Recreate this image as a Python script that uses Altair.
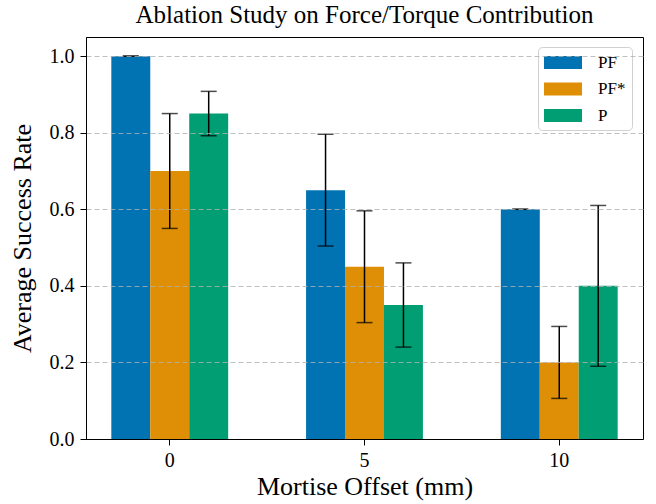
import altair as alt
import pandas as pd

offsets = ["0", "5", "10"]
methods = ["PF", "PF*", "P"]
colors = ["#0173b2", "#de8f05", "#029e73"]

pf_mean = [1.0, 0.65, 0.60]
pf_err = [0.0, 0.146, 0.0]
pfs_mean = [0.70, 0.45, 0.20]
pfs_err = [0.15, 0.146, 0.094]
p_mean = [0.85, 0.35, 0.40]
p_err = [0.058, 0.11, 0.21]

y_ticks = [0.0, 0.2, 0.4, 0.6, 0.8, 1.0]

rows = []
for m, means, errs in zip(methods, [pf_mean, pfs_mean, p_mean], [pf_err, pfs_err, p_err]):
    for o, v, e in zip(offsets, means, errs):
        rows.append({"offset": o, "method": m, "value": v, "lo": v - e, "hi": v + e})
df = pd.DataFrame(rows)

FONT = "Liberation Serif"

x_enc = alt.X("offset:N", sort=offsets,
              scale=alt.Scale(paddingInner=0.4, paddingOuter=0.13),
              axis=alt.Axis(title="Mortise Offset (mm)", labelAngle=0, zindex=2))
xo_enc = alt.XOffset("method:N", sort=methods,
                     scale=alt.Scale(paddingInner=0, paddingOuter=0))
y_scale = alt.Scale(domain=[0, 1.05], nice=False, zero=True)

base = alt.Chart(df)

bars = base.mark_bar().encode(
    x=x_enc,
    xOffset=xo_enc,
    y=alt.Y("value:Q", scale=y_scale,
            axis=alt.Axis(title="Average Success Rate", values=y_ticks, format=".1f",
                          grid=True, gridDash=[5, 3], gridColor="#b0b0b0",
                          gridOpacity=0.8, zindex=1)),
    color=alt.Color("method:N", sort=methods,
                    scale=alt.Scale(domain=methods, range=colors),
                    legend=alt.Legend(title=None, orient="none", legendX=452, legendY=10,
                                      symbolType="M-1,-0.68H3V0.68H-1Z", symbolSize=361,
                                      symbolStrokeWidth=0, labelOffset=35, rowPadding=8.5,
                                      padding=6, fillColor="white", strokeColor="#d0d0d0",
                                      cornerRadius=4, labelFont=FONT, labelFontSize=17,
                                      labelColor="black")),
)

rules = base.mark_rule(color="black", strokeWidth=1.5).encode(
    x=x_enc, xOffset=xo_enc,
    y=alt.Y("lo:Q", scale=y_scale), y2="hi:Q",
)
cap_hi = base.mark_tick(color="black", size=16, thickness=1.5, orient="horizontal").encode(
    x=x_enc, xOffset=xo_enc, y=alt.Y("hi:Q", scale=y_scale),
)
cap_lo = base.mark_tick(color="black", size=16, thickness=1.5, orient="horizontal").encode(
    x=x_enc, xOffset=xo_enc, y=alt.Y("lo:Q", scale=y_scale),
)

chart = alt.layer(bars, rules, cap_hi, cap_lo).properties(
    width=557, height=402,
    title=alt.TitleParams("Ablation Study on Force/Torque Contribution",
                          font=FONT, fontSize=25, fontWeight="normal", color="black",
                          anchor="middle", offset=9),
    autosize=alt.AutoSizeParams(type="none"),
    padding={"left": 86, "top": 37, "right": 13, "bottom": 65},
).configure_view(
    stroke="black", strokeWidth=1
).configure_axis(
    labelFont=FONT, labelFontSize=20, labelColor="black",
    titleFont=FONT, titleFontSize=26, titleFontWeight="normal", titleColor="black",
    domainColor="black", tickColor="black", tickSize=6, labelPadding=6,
).configure_axisY(
    titlePadding=14,
).configure_axisX(
    titlePadding=3, labelPadding=5,
)

chart.save("out.html", embed_options={"renderer": "svg", "actions": False})
